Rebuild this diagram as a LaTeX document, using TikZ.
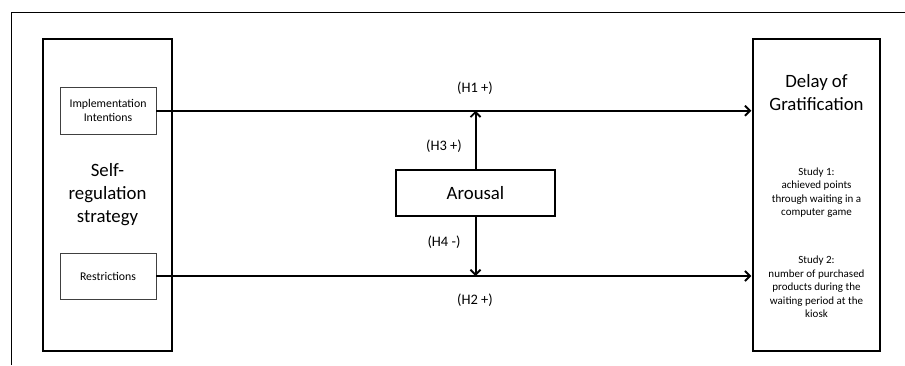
\documentclass[tikz,border=0pt]{standalone}
\usepackage{fontspec}
\setmainfont{Carlito}
\usetikzlibrary{arrows.meta}
\begin{document}
\begin{tikzpicture}[x=1pt,y=-1pt,
  bigbox/.style={draw,line width=1.5pt,inner sep=0pt},
  smallbox/.style={draw=black!75,line width=0.8pt,inner sep=0pt,align=center,
    font=\fontsize{11.8}{14}\selectfont},
  bigtext/.style={align=center,inner sep=0pt,font=\fontsize{18.8}{23}\selectfont},
  studytext/.style={align=center,inner sep=0pt,font=\fontsize{11}{13.4}\selectfont},
  hlabel/.style={inner sep=0pt,font=\fontsize{14.5}{16}\selectfont},
  arr/.style={line width=2pt,-{Straight Barb[length=5pt,width=10pt,line width=1.8pt]}}]
\useasboundingbox (0,0) rectangle (905,365);
% partial outer frame
\coordinate (fl) at (11,365);
\coordinate (fc) at (11,12);
\coordinate (fr) at (905,12);
\draw[line width=0.9pt] (fl) -- (fc) -- (fr);
% left box
\node[bigbox,minimum width=129pt,minimum height=312pt] (left) at (107.5,195) {};
\node[smallbox,minimum width=96pt,minimum height=46.5pt] (impl) at (108,110.75) {Implementation\\Intentions};
\node[smallbox,minimum width=96pt,minimum height=46pt] (restr) at (108,276) {Restrictions};
\node[bigtext] (self) at (107.5,195) {Self-\\regulation\\strategy};
% right box
\node[bigbox,minimum width=127pt,minimum height=312pt] (right) at (816.5,195) {};
\node[bigtext] (delay) at (816.5,92.5) {Delay of\\Gratification};
\node[studytext] (s1) at (816.5,192.5) {Study 1:\\achieved points\\through waiting in a\\computer game};
\node[studytext] (s2) at (816.5,287) {Study 2:\\number of purchased\\products during the\\waiting period at the\\kiosk};
% arousal
\node[draw,line width=1.2pt,minimum width=159pt,minimum height=46pt,inner sep=0pt,
  font=\fontsize{18.8}{23}\selectfont] (arousal) at (475.5,193) {Arousal};
% arrows
\coordinate (t1) at ([xshift=-1pt]right.west |- impl.east);
\coordinate (t2) at ([xshift=-1pt]right.west |- restr.east);
\draw[arr] (impl.east) -- (t1);
\draw[arr] (restr.east) -- (t2);
\coordinate (up) at (arousal.north |- impl.east);
\coordinate (dn) at (arousal.south |- restr.east);
\draw[arr] (arousal.north) -- (up);
\draw[arr] (arousal.south) -- (dn);
% labels
\node[hlabel] (h1) at (475,88) {(H1 +)};
\node[hlabel] (h3) at (444,146) {(H3 +)};
\node[hlabel] (h4) at (444,242) {(H4 -)};
\node[hlabel] (h2) at (475,300) {(H2 +)};
\end{tikzpicture}
\end{document}
